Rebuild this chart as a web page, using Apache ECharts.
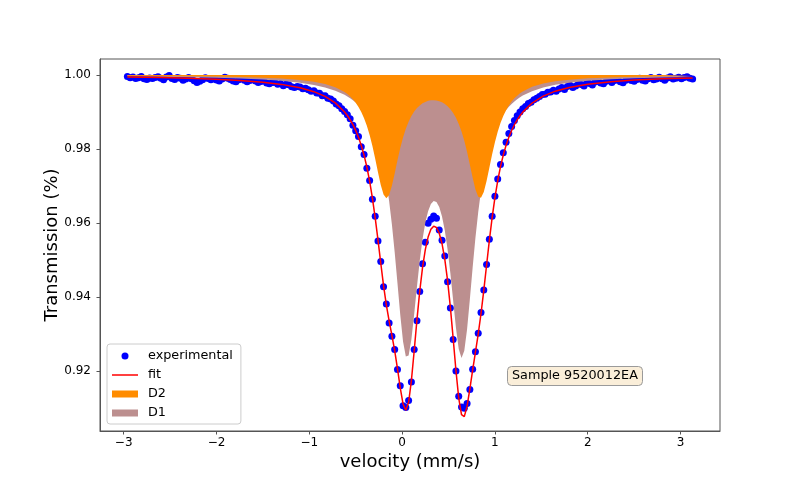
<!DOCTYPE html>
<html><head><meta charset="utf-8">
<script src="https://cdn.jsdelivr.net/npm/echarts@6/dist/echarts.min.js"></script>
<style>html,body{margin:0;padding:0;background:#fff}#c{width:800px;height:493px}</style>
</head><body><div id="c"></div>
<script>
// experimental channels (velocity, mm/s)
const expX = [
-2.96,-2.93,-2.90,-2.87,-2.84,-2.81,-2.78,-2.75,-2.72,-2.69,
-2.66,-2.63,-2.60,-2.57,-2.54,-2.51,-2.48,-2.45,-2.42,-2.39,
-2.36,-2.33,-2.30,-2.27,-2.24,-2.21,-2.18,-2.15,-2.12,-2.09,
-2.06,-2.03,-2.00,-1.97,-1.94,-1.91,-1.88,-1.85,-1.82,-1.79,
-1.76,-1.73,-1.70,-1.67,-1.64,-1.61,-1.58,-1.55,-1.52,-1.49,
-1.46,-1.43,-1.40,-1.37,-1.34,-1.31,-1.28,-1.25,-1.22,-1.19,
-1.16,-1.13,-1.10,-1.07,-1.04,-1.01,-0.98,-0.95,-0.92,-0.89,
-0.86,-0.83,-0.80,-0.77,-0.74,-0.71,-0.68,-0.65,-0.62,-0.59,
-0.56,-0.53,-0.50,-0.47,-0.44,-0.41,-0.38,-0.35,-0.32,-0.29,
-0.26,-0.23,-0.20,-0.17,-0.14,-0.11,-0.08,-0.05,-0.02,0.01,
0.04,0.07,0.10,0.13,0.16,0.19,0.22,0.25,0.28,0.31,
0.34,0.37,0.40,0.43,0.46,0.49,0.52,0.55,0.58,0.61,
0.64,0.67,0.70,0.73,0.76,0.79,0.82,0.85,0.88,0.91,
0.94,0.97,1.00,1.03,1.06,1.09,1.12,1.15,1.18,1.21,
1.24,1.27,1.30,1.33,1.36,1.39,1.42,1.45,1.48,1.51,
1.54,1.57,1.60,1.63,1.66,1.69,1.72,1.75,1.78,1.81,
1.84,1.87,1.90,1.93,1.96,1.99,2.02,2.05,2.08,2.11,
2.14,2.17,2.20,2.23,2.26,2.29,2.32,2.35,2.38,2.41,
2.44,2.47,2.50,2.53,2.56,2.59,2.62,2.65,2.68,2.71,
2.74,2.77,2.80,2.83,2.86,2.89,2.92,2.95,2.98,3.01,
3.04,3.07,3.10,3.13];
// experimental transmission
const expY = [
.99960,.99925,.99948,.99905,.99922,.99958,.99896,.99880,.99920,.99902,
.99930,.99955,.99911,.99870,.99945,.99985,.99905,.99880,.99930,.99910,
.99858,.99890,.99935,.99900,.99842,.99795,.99830,.99870,.99925,.99905,
.99872,.99900,.99862,.99835,.99890,.99940,.99915,.99880,.99840,.99815,
.99870,.99902,.99860,.99820,.99850,.99875,.99840,.99800,.99822,.99845,
.99780,.99760,.99795,.99800,.99752,.99772,.99712,.99750,.99738,.99680,
.99660,.99690,.99672,.99625,.99640,.99602,.99560,.99575,.99512,.99505,
.99440,.99438,.99368,.99350,.99300,.99218,.99170,.99090,.99012,.98925,
.98820,.98640,.98490,.98335,.98060,.97850,.97480,.97150,.96640,.96180,
.95510,.94960,.94280,.93810,.93300,.92940,.92580,.92040,.91600,.91060,
.91010,.91200,.91700,.92580,.93360,.94150,.94900,.95480,.95990,.96100,
.96190,.96130,.95810,.95530,.95110,.94410,.93700,.92850,.92000,.91320,
.91030,.90990,.91120,.91500,.92050,.92520,.93020,.93580,.94190,.94880,
.95560,.96180,.96720,.97190,.97580,.97900,.98180,.98420,.98610,.98770,
.98900,.99000,.99090,.99150,.99230,.99260,.99330,.99370,.99420,.99470,
.99480,.99530,.99540,.99590,.99560,.99620,.99660,.99610,.99690,.99720,
.99660,.99700,.99760,.99740,.99700,.99790,.99770,.99730,.99810,.99840,
.99780,.99760,.99830,.99860,.99800,.99850,.99880,.99820,.99790,.99860,
.99900,.99850,.99830,.99880,.99910,.99860,.99840,.99900,.99930,.99870,
.99890,.99940,.99900,.99860,.99920,.99950,.99890,.99910,.99940,.99900,
.99930,.99950,.99910,.99890];
// model curves (velocity grid)
const curveX = [
-2.96,-2.6,-2.3,-2.0,-1.75,-1.5,-1.3,-1.1,-0.95,-0.83,-0.72,
-0.62,-0.59,-0.56,-0.53,-0.50,-0.47,-0.44,-0.41,-0.38,-0.35,-0.32,-0.29,-0.26,-0.23,-0.20,-0.17,-0.14,-0.11,-0.08,-0.05,-0.02,
0.01,0.04,0.07,0.10,0.13,0.16,0.19,0.22,0.25,0.28,0.31,0.34,0.37,0.40,0.43,0.46,0.49,0.52,0.55,0.58,0.61,
0.64,0.67,0.70,0.73,0.76,0.79,0.82,0.85,0.88,0.91,0.94,0.97,1.00,1.03,1.06,1.09,1.12,1.15,1.18,1.21,1.24,1.27,1.30,
1.40,1.52,1.65,1.8,2.0,2.25,2.5,2.8,3.13];
const fitY = [
.99944,.99929,.99911,.99884,.99852,.99804,.99746,.99655,.99549,.99421,.99246,
.99001,.98904,.98790,.98658,.98502,.98317,.98097,.97832,.97513,.97130,.96673,.96139,.95542,.94913,.94309,.93785,.93352,.92965,.92551,.92066,.91543,
.91108,.90937,.91154,.91738,.92541,.93388,.94157,.94792,.95278,.95620,.95829,.95914,.95879,.95723,.95439,.95015,.94442,.93719,.92881,.92012,.91268,
.90820,.90765,.91049,.91516,.92022,.92508,.92999,.93549,.94179,.94858,.95530,.96147,.96686,.97141,.97522,.97837,.98098,.98317,.98500,.98655,.98787,.98900,.98997,
.99241,.99430,.99563,.99664,.99751,.99819,.99862,.99896,.99920];
const d1Y = [
.99963,.99953,.99942,.99925,.99905,.99876,.99841,.99789,.99731,.99664,.99577,
.99464,.99421,.99372,.99317,.99254,.99181,.99098,.99001,.98887,.98753,.98593,.98401,.98170,.97888,.97542,.97117,.96595,.95961,.95212,.94372,.93518,
.92798,.92392,.92418,.92849,.93531,.94283,.94980,.95559,.96005,.96319,.96513,.96595,.96567,.96431,.96178,.95799,.95286,.94644,.93908,.93171,.92591,
.92348,.92545,.93130,.93939,.94800,.95600,.96293,.96869,.97341,.97724,.98036,.98291,.98502,.98676,.98822,.98946,.99051,.99141,.99219,.99286,.99345,.99397,.99443,
.99562,.99660,.99733,.99791,.99842,.99883,.99910,.99932,.99947];
const d2Y = [
.99981,.99975,.99969,.99959,.99947,.99928,.99905,.99866,.99818,.99757,.99669,
.99538,.99483,.99419,.99341,.99248,.99136,.98999,.98831,.98626,.98377,.98080,.97738,.97372,.97025,.96767,.96668,.96757,.97004,.97339,.97694,.98024,
.98309,.98545,.98736,.98889,.99010,.99105,.99178,.99233,.99273,.99301,.99316,.99319,.99312,.99293,.99262,.99217,.99155,.99076,.98973,.98842,.98677,
.98472,.98220,.97919,.97577,.97222,.96908,.96707,.96680,.96839,.97135,.97495,.97856,.98184,.98465,.98699,.98891,.99048,.99176,.99281,.99369,.99441,.99503,.99554,
.99679,.99769,.99830,.99873,.99909,.99935,.99952,.99964,.99973];
const xTicks = [-3,-2,-1,0,1,2,3];
const yTicks = [0.92,0.94,0.96,0.98,1.00];
const baseline = 1.0;
const sampleLabel = 'Sample 9520012EA';

const FONT = 'DejaVu Sans';
const AX = '#555';
const pair = (xs, ys) => xs.map((x, i) => [x, ys[i]]);

const chart = echarts.init(document.getElementById('c'), null, {renderer: 'canvas'});
chart.setOption({
  animation: false,
  backgroundColor: '#fff',
  textStyle: {fontFamily: FONT},
  title: {
    text: sampleLabel, left: 507, top: 366, padding: [3, 5, 3, 5],
    backgroundColor: '#faeed9', borderColor: '#9a9a9a', borderWidth: 1, borderRadius: 4,
    textStyle: {fontSize: 12.8, fontWeight: 'normal', color: '#000', fontFamily: FONT, lineHeight: 14}
  },
  legend: {
    orient: 'vertical', left: 107, top: 344, itemWidth: 26, itemHeight: 7, itemGap: 5,
    padding: [5, 8, 4, 5], backgroundColor: 'rgba(255,255,255,0.8)', borderColor: '#cccccc',
    borderWidth: 1, borderRadius: 3,
    textStyle: {fontSize: 12.8, color: '#000', fontFamily: FONT, lineHeight: 14, padding: [0, 0, 0, 5]},
    data: [
      {name: 'experimental', icon: 'circle'},
      {name: 'fit', icon: 'path://M0,0 L26,0 L26,1.5 L0,1.5 Z'},
      {name: 'D2', icon: 'rect'},
      {name: 'D1', icon: 'rect'}
    ]
  },
  grid: {left: 100, right: 80, top: 59, bottom: 62, show: true, borderColor: AX, borderWidth: 1, backgroundColor: 'transparent'},
  xAxis: {
    type: 'value', min: -3.255, max: 3.425,
    name: 'velocity (mm/s)', nameLocation: 'middle', nameGap: 22, nameMoveOverlap: false,
    nameTextStyle: {fontSize: 18, color: '#000', fontFamily: FONT},
    axisLine: {show: true, onZero: false, lineStyle: {color: AX, width: 1}},
    axisTick: {show: true, length: 3.5, lineStyle: {color: AX}, customValues: xTicks},
    axisLabel: {customValues: xTicks, formatter: v => v < 0 ? '\u2212' + Math.abs(v) : String(v),
      fontSize: 12, color: '#000', margin: 6, fontFamily: FONT},
    splitLine: {show: false}
  },
  yAxis: {
    type: 'value', min: 0.90378, max: 1.00432,
    name: 'Transmission (%)', nameLocation: 'middle', nameGap: 39, nameMoveOverlap: false,
    nameTextStyle: {fontSize: 18, color: '#000', fontFamily: FONT},
    axisLine: {show: true, onZero: false, lineStyle: {color: AX, width: 1}},
    axisTick: {show: true, length: 3.5, lineStyle: {color: AX}, customValues: yTicks},
    axisLabel: {customValues: yTicks, formatter: v => v.toFixed(2),
      fontSize: 12, color: '#000', margin: 9, fontFamily: FONT},
    splitLine: {show: false}
  },
  series: [
    {name: 'D1', type: 'line', data: pair(curveX, d1Y), symbol: 'none', silent: true,
      itemStyle: {color: '#bc8f8f'}, lineStyle: {opacity: 0, width: 0},
      areaStyle: {color: '#bc8f8f', opacity: 1, origin: baseline}},
    {name: 'D2', type: 'line', data: pair(curveX, d2Y), symbol: 'none', silent: true,
      itemStyle: {color: '#ff8c00'}, lineStyle: {opacity: 0, width: 0},
      areaStyle: {color: '#ff8c00', opacity: 1, origin: baseline}},
    {name: 'experimental', type: 'scatter', data: pair(expX, expY), symbol: 'circle', symbolSize: 7,
      itemStyle: {color: '#0000ff', opacity: 1}},
    {name: 'fit', type: 'line', data: pair(curveX, fitY), symbol: 'none',
      itemStyle: {color: '#ff0000'}, lineStyle: {color: '#ff0000', width: 1.5}}
  ]
});
</script>
</body></html>
